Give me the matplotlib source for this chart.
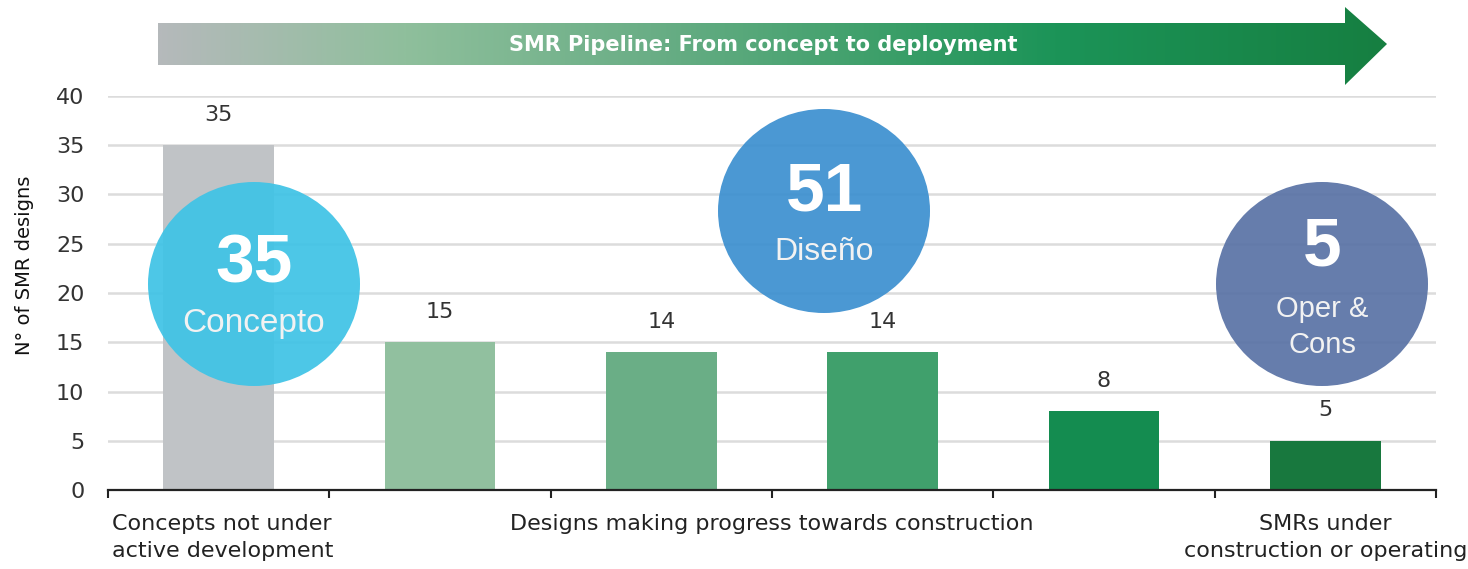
import numpy as np
import matplotlib
matplotlib.use("Agg")
import matplotlib.pyplot as plt
from matplotlib.patches import Ellipse, Polygon
from matplotlib.transforms import blended_transform_factory
from matplotlib.colors import LinearSegmentedColormap

# ---- data ----
categories = ["c1", "d1", "d2", "d3", "d4", "s1"]
values = [35, 15, 14, 14, 8, 5]
bar_colors = ["#c0c3c6", "#91c09f", "#6aae86", "#40a06c", "#148c50", "#18783e"]
y_ticks = [0, 5, 10, 15, 20, 25, 30, 35, 40]
group_labels = ["Concepts not under\nactive development",
                "Designs making progress towards construction",
                "SMRs under\nconstruction or operating"]
summary_values = [35, 51, 5]
summary_labels = ["Concepto", "Diseño", "Oper &\nCons"]
summary_colors = ["#3fc3e6", "#3d90d0", "#5a73a6"]
title = "SMR Pipeline: From concept to deployment"

W, H = 1468, 569
fig = plt.figure(figsize=(W / 100, H / 100), dpi=100)

narrow = ["Liberation Sans Narrow", "DejaVu Sans"]
arial = ["Liberation Sans", "DejaVu Sans"]
txt_color = "#333333"

ax = fig.add_axes([108 / W, 1 - 490 / H, (1436 - 108) / W, (490 - 96) / H])
x = np.arange(len(values))
ax.bar(x, values, width=0.5, color=bar_colors, zorder=2)
ax.set_xlim(-0.5, len(values) - 0.5)
ax.set_ylim(0, 40)
ax.set_yticks(y_ticks)
ax.set_yticklabels([str(v) for v in y_ticks], fontfamily=narrow, fontsize=16, color=txt_color)
ax.tick_params(axis="y", length=0, pad=17)
ax.set_xticks([])
ax.set_xticks(np.arange(-0.5, len(values)), minor=True)
ax.tick_params(axis="x", which="minor", length=6, width=1.5, direction="out", color="#222222")
ax.grid(axis="y", color="#dcdcdc", linewidth=1.8, zorder=0)
ax.set_axisbelow(True)
for s in ["top", "right", "left"]:
    ax.spines[s].set_visible(False)
ax.spines["bottom"].set_linewidth(1.6)
ax.spines["bottom"].set_color("#222222")
ax.set_ylabel("N° of SMR designs", fontfamily=narrow, fontsize=14,
              color="#111111")
ax.yaxis.set_label_coords(-0.056, 0.57)

for xi, v in zip(x, values):
    ax.annotate(str(v), (xi, v), xytext=(0, 22), textcoords="offset points",
                ha="center", va="center", fontfamily=narrow, fontsize=16, color=txt_color)

tr = blended_transform_factory(ax.transData, ax.transAxes)
ax.text(-0.48, -0.06, group_labels[0], transform=tr, ha="left", va="top",
        fontfamily=narrow, fontsize=16, color="#222222", linespacing=1.45)
ax.text(2.5, -0.06, group_labels[1], transform=tr, ha="center", va="top",
        fontfamily=narrow, fontsize=16, color="#222222", linespacing=1.45)
ax.text(5.0, -0.06, group_labels[2], transform=tr, ha="center", va="top",
        fontfamily=narrow, fontsize=16, color="#222222", linespacing=1.45)

# ---- overlay (pixel coordinates) ----
ov = fig.add_axes([0, 0, 1, 1], zorder=5)
ov.set_xlim(0, W)
ov.set_ylim(H, 0)
ov.axis("off")
ov.patch.set_visible(False)

# gradient arrow
arrow_pts = [(158, 23), (1345, 23), (1345, 7), (1387, 44), (1345, 85), (1345, 65), (158, 65)]
cmap = LinearSegmentedColormap.from_list(
    "pipe", [(0.0, "#b5b9bb"), (0.2, "#8fbf9c"), (0.4, "#6aae86"),
             (0.6, "#3a9e68"), (0.73, "#1c9458"), (1.0, "#167f41")])
grad = np.linspace(0, 1, 512).reshape(1, -1)
im = ov.imshow(grad, cmap=cmap, extent=(158, 1387, 85, 7), aspect="auto", zorder=1)
poly = Polygon(arrow_pts, closed=True, facecolor="none", edgecolor="none")
ov.add_patch(poly)
im.set_clip_path(poly)
ov.set_xlim(0, W)
ov.set_ylim(H, 0)
ov.text(763, 45, title, ha="center", va="center", fontfamily=narrow, fontsize=15,
        fontweight="bold", color="white", zorder=3)

# summary circles
centers = [(254, 284), (824, 211), (1322, 284)]
for (cx, cy), val, lab, col in zip(centers, summary_values, summary_labels, summary_colors):
    ov.add_patch(Ellipse((cx, cy), 212, 204, facecolor=col, edgecolor="none", alpha=0.93, zorder=2))
nums_y = [264, 192, 247]
labs_y = [323, 252, 327]
lab_sizes = [24, 23, 21]
for (cx, cy), val, lab, ny, ly, ls in zip(centers, summary_values, summary_labels, nums_y, labs_y, lab_sizes):
    ov.text(cx, ny, str(val), ha="center", va="center", fontfamily=arial, fontsize=50,
            fontweight="bold", color="white", zorder=3)
    ov.text(cx, ly, lab, ha="center", va="center", fontfamily=arial, fontsize=ls,
            color="#f2f2f2", zorder=3, linespacing=1.4)

fig.savefig("out.png", dpi=100)
